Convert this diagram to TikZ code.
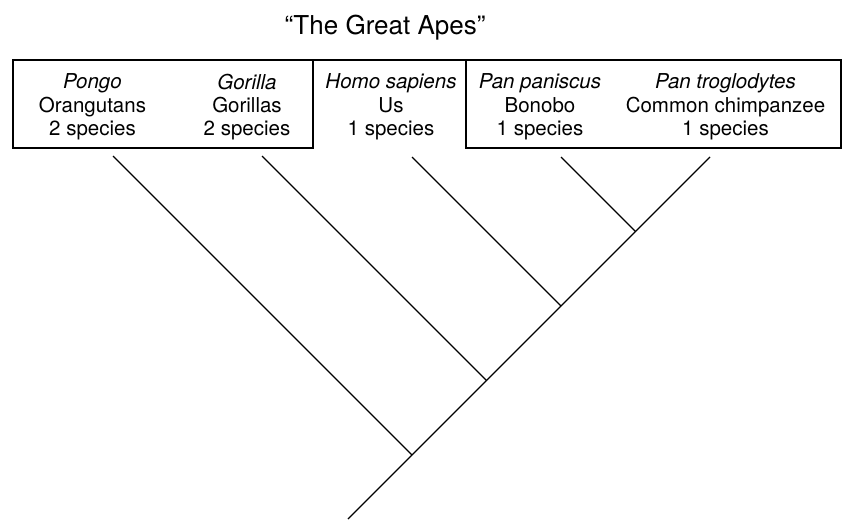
\documentclass[tikz,border=0pt]{standalone}
\usepackage{fontspec}
\setmainfont{TeX Gyre Heros}
\usepackage{tikz}

\tikzset{
  taxon/.style={align=center, inner sep=0pt, font=\fontsize{20.5}{23.3}\selectfont},
  title/.style={inner sep=0pt, font=\fontsize{26}{30}\selectfont},
  branch/.style={black, line width=1.2pt},
  frame/.style={black, line width=1.2pt}
}

\begin{document}
\begin{tikzpicture}[x=1pt,y=1pt]
\useasboundingbox (0,0) rectangle (842,-519);
% title
\node [title, anchor=base] (heading) at (385,-35) {``The Great Apes''};
% boxes round the groups
\draw [frame] (13,-60) -- (841,-60);
\draw [frame] (13,-60) rectangle (313,-148);
\draw [frame] (466,-60) rectangle (841,-148);
% taxa
\node [taxon] (pongo) at (92.5,-107) {\textit{Pongo}\\Orangutans\\2 species};
\node [taxon] (gorilla) at (247,-107) {\textit{Gorilla}\\Gorillas\\2 species};
\node [taxon] (homo) at (391,-107) {\textit{Homo sapiens}\\Us\\1 species};
\node [taxon] (paniscus) at (540,-107) {\textit{Pan paniscus}\\Bonobo\\1 species};
\node [taxon] (troglodytes) at (725.5,-107) {\textit{Pan troglodytes}\\Common chimpanzee\\1 species};
% tips of the tree
\coordinate (tpongo) at (113,-156);
\coordinate (tgorilla) at (262,-156);
\coordinate (thomo) at (412,-157);
\coordinate (tpaniscus) at (561,-157);
\coordinate (ttroglodytes) at (710,-157);
% joints
\coordinate (jpan) at (635.5,-231.5);
\coordinate (jhomo) at (561,-306);
\coordinate (jgorilla) at (486.5,-380.5);
\coordinate (japes) at (412,-455);
\coordinate (root) at (348,-519);
% branches
\draw [branch] (ttroglodytes) -- (root);
\draw [branch] (tpaniscus) -- (jpan);
\draw [branch] (thomo) -- (jhomo);
\draw [branch] (tgorilla) -- (jgorilla);
\draw [branch] (tpongo) -- (japes);
\end{tikzpicture}
\end{document}
